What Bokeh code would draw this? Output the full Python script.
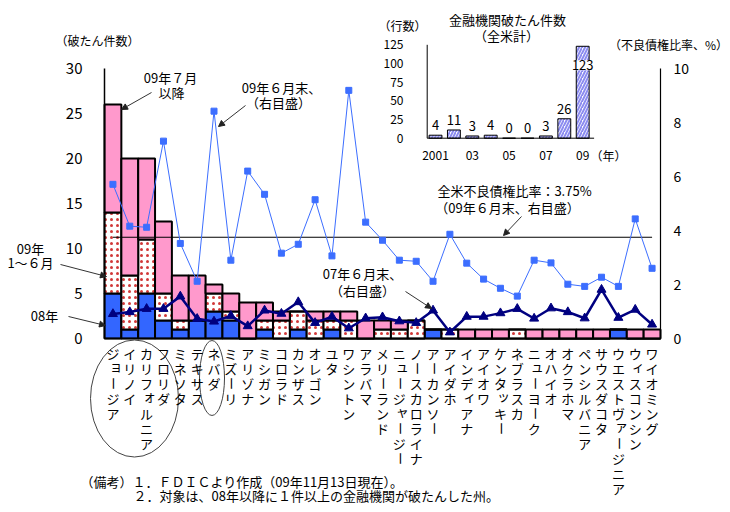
import math
from bokeh.plotting import figure
from bokeh.models import (ColumnDataSource, Range1d, LabelSet, Label, Arrow, NormalHead)
from bokeh.embed import file_html
from bokeh.resources import INLINE
from bokeh.core.properties import value

# ---------------- data ----------------
states = ["ジョージア", "イリノイ", "カリフォルニア", "フロリダ", "ミネソタ", "テキサス", "ネバダ",
          "ミズーリ", "アリゾナ", "ミシガン", "コロラド", "カンザス", "オレゴン", "ユタ", "ワシントン",
          "アラバマ", "メリーランド", "ニュージャージー", "ノースカロライナ", "アーカンソー", "アイダホ",
          "インディアナ", "アイオワ", "ケンタッキー", "ネブラスカ", "ニューヨーク", "オハイオ",
          "オクラホマ", "ペンシルバニア", "サウスダコタ", "ウエストヴァージニア", "ウィスコンシン", "ワイオミング"]
failures_2008 = [5, 1, 5, 2, 1, 2, 3, 2, 0, 1, 0, 1, 0, 1, 0, 0, 0, 0, 0, 1, 0, 0, 0, 0, 0, 0, 0, 0, 0, 0, 1, 0, 0]
failures_2009_h1 = [9, 6, 6, 3, 1, 0, 2, 1, 0, 1, 2, 2, 2, 1, 2, 0, 1, 1, 2, 0, 1, 0, 0, 0, 1, 0, 0, 0, 0, 0, 0, 0, 0]
failures_2009_h2 = [12, 13, 9, 8, 5, 5, 1, 2, 4, 2, 1, 0, 1, 1, 1, 2, 1, 1, 0, 0, 0, 1, 1, 1, 0, 1, 1, 1, 1, 1, 0, 1, 1]
npl_2009_06 = [5.71, 4.16, 4.12, 7.31, 3.52, 2.12, 8.42, 2.90, 6.20, 5.34, 3.16, 3.49, 5.14, 3.06, 9.19,
               4.31, 3.64, 2.90, 2.86, 2.12, 3.86, 2.79, 2.20, 1.86, 1.57, 2.90, 2.80, 2.01, 1.93, 2.27,
               1.93, 4.43, 2.60]
npl_2007_06 = [0.91, 0.98, 1.10, 1.10, 1.56, 0.73, 0.63, 0.84, 0.46, 1.04, 0.92, 1.35, 0.58, 0.81, 0.38,
               0.75, 0.79, 0.64, 0.58, 1.04, 0.23, 0.81, 0.81, 0.94, 1.10, 0.74, 1.12, 0.98, 0.75, 1.81,
               0.77, 1.07, 0.52]
npl_us_2009_06 = 3.75
left_ticks = [0, 5, 10, 15, 20, 25, 30]
right_ticks = [0, 2, 4, 6, 8, 10]

years = [2001, 2002, 2003, 2004, 2005, 2006, 2007, 2008, 2009]
us_failures = [4, 11, 3, 4, 0, 0, 3, 26, 123]
inset_y_ticks = [0, 25, 50, 75, 100, 125]
inset_x_ticks = [2001, 2003, 2005, 2007, 2009]
inset_x_tick_labels = ["2001", "03", "05", "07", "09"]

# ---------------- layout (pixels) ----------------
W, H = 730, 512
AX_L, AX_R = 104, 660          # left / right axis x
AX_B, AX_T = 338, 68           # y of zero / of top tick
n_states = len(states)
ppx = (AX_R - AX_L) / n_states
ppu_l = (AX_B - AX_T) / left_ticks[-1]
ppu_r = (AX_B - AX_T) / right_ticks[-1]

INS_X0_PX, INS_DX_PX = 435.0, 18.4     # centre of first year bar, spacing
INS_Y0_PX, INS_TOP_PX = 137.7, 44.3    # pixel of 0 and of 125
ins_ppu = (INS_Y0_PX - INS_TOP_PX) / inset_y_ticks[-1]

JP = "Noto Sans CJK JP"
PINK, BLUE, LBLUE, NAVY = "#FF99CC", "#3366FF", "#3C6EFF", "#000080"

xpos = [i + 0.5 for i in range(n_states)]   # category centres on a 0..n scale

# the frame covers the whole canvas; every scale is placed by its ranges
p = figure(width=W, height=H,
           x_range=Range1d(-AX_L / ppx, n_states + (W - AX_R) / ppx),
           y_range=Range1d(-(H - AX_B) / ppu_l, AX_B / ppu_l),
           x_axis_type=None, y_axis_type=None,
           output_backend="svg", toolbar_location=None,
           min_border=0, min_border_left=0, min_border_right=0, min_border_top=0, min_border_bottom=0)
p.extra_y_ranges = {
    "ratio": Range1d(-(H - AX_B) / ppu_r, AX_B / ppu_r),
    "px": Range1d(H, 0),
    "inset_y": Range1d(-(H - INS_Y0_PX) / ins_ppu, INS_Y0_PX / ins_ppu),
}
p.extra_x_ranges = {
    "px": Range1d(0, W),
    "inset_x": Range1d(years[0] - INS_X0_PX / INS_DX_PX, years[0] + (W - INS_X0_PX) / INS_DX_PX),
}
p.outline_line_color = None
p.background_fill_color = "white"
p.border_fill_color = "white"

# ---------------- main bars & lines ----------------
src = ColumnDataSource(dict(state=states, x=xpos, y08=failures_2008, h1=failures_2009_h1,
                            h2=failures_2009_h2, npl09=npl_2009_06, npl07=npl_2007_06))
p.vbar_stack(["y08", "h1", "h2"], x="x", width=1.0, source=src,
             fill_color=[BLUE, "white", PINK], line_color="black", line_width=2,
             hatch_pattern=[" ", "dot", " "], hatch_color="#CC2222", hatch_scale=6, hatch_weight=0.4,
             hatch_alpha=0.9)

# axes lines
p.segment(x0=[0, 0], y0=[left_ticks[0], 0], x1=[0, n_states], y1=[left_ticks[-1], 0],
          line_color="black", line_width=1.5)
p.segment(x0=[n_states], y0=[right_ticks[0]], x1=[n_states], y1=[right_ticks[-1]],
          y_range_name="ratio", line_color="black", line_width=1.2)

ref_src = ColumnDataSource(dict(x=[xpos[0], xpos[-1]], y=[npl_us_2009_06, npl_us_2009_06]))
p.line(x="x", y="y", source=ref_src, y_range_name="ratio", line_color="black", line_width=1.2)

p.line(x="x", y="npl09", source=src, y_range_name="ratio", line_color=LBLUE, line_width=1)
p.scatter(x="x", y="npl09", source=src, y_range_name="ratio", marker="square", size=6,
          fill_color=LBLUE, line_color=LBLUE)
p.line(x="x", y="npl07", source=src, y_range_name="ratio", line_color=NAVY, line_width=2.5)
p.scatter(x="x", y="npl07", source=src, y_range_name="ratio", marker="triangle", size=9,
          fill_color=NAVY, line_color=NAVY)

# tick labels
lt_src = ColumnDataSource(dict(x=[82] * len(left_ticks), y=left_ticks, t=[str(v) for v in left_ticks]))
p.add_layout(LabelSet(x="x", y="y", text="t", source=lt_src, x_range_name="px",
                      text_align="right", text_baseline="middle", text_font=value(JP),
                      text_font_size="15px", text_color="black"))
rt_src = ColumnDataSource(dict(x=[673] * len(right_ticks), y=right_ticks, t=[str(v) for v in right_ticks]))
p.add_layout(LabelSet(x="x", y="y", text="t", source=rt_src, x_range_name="px", y_range_name="ratio",
                      text_align="left", text_baseline="middle", text_font=value(JP),
                      text_font_size="14px", text_color="black"))

# ---------------- vertical category labels ----------------
small = set("ャュョァィゥェォッ")
cx, cy, ct, ca, cdx = [], [], [], [], []
for xi, s in zip(xpos, states):
    for k, ch in enumerate(s):
        cx.append(xi)
        cy.append(353 + 15 * k - (3 if ch in small else 0))
        ct.append(ch)
        ca.append(math.pi / 2 if ch == "ー" else 0.0)
        cdx.append(3 if ch in small else 0)
lab_src = ColumnDataSource(dict(x=cx, y=cy, t=ct, a=ca, dx=cdx))
p.add_layout(LabelSet(x="x", y="y", text="t", angle="a", x_offset="dx", source=lab_src, y_range_name="px",
                      text_align="center", text_baseline="middle", text_font=value(JP),
                      text_font_size="13px", text_color="black"))

# ---------------- inset chart ----------------
ins_src = ColumnDataSource(dict(year=years, n=us_failures))
p.vbar(x="year", top="n", width=0.7, source=ins_src, x_range_name="inset_x", y_range_name="inset_y",
       fill_color="white", line_color="black", line_width=1,
       hatch_pattern="/", hatch_color="#8C8CF0", hatch_scale=6, hatch_weight=2)
x_lo = years[0] - (INS_X0_PX - 426.7) / INS_DX_PX
x_hi = years[-1] + 0.62
p.segment(x0=[x_lo, x_lo], y0=[0, 0], x1=[x_lo, x_hi], y1=[inset_y_ticks[-1], 0],
          x_range_name="inset_x", y_range_name="inset_y", line_color="black", line_width=1)

label_y = [v + 10 / ins_ppu if v < 100 else v - 19 / ins_ppu for v in us_failures]
small_src = ColumnDataSource(dict(year=[y for y, v in zip(years, us_failures) if v < 100],
                                  ly=[l for l, v in zip(label_y, us_failures) if v < 100],
                                  t=[str(v) for v in us_failures if v < 100]))
big_src = ColumnDataSource(dict(year=[y for y, v in zip(years, us_failures) if v >= 100],
                                ly=[l for l, v in zip(label_y, us_failures) if v >= 100],
                                t=[str(v) for v in us_failures if v >= 100]))
p.add_layout(LabelSet(x="year", y="ly", text="t", source=small_src, x_range_name="inset_x",
                      y_range_name="inset_y", text_align="center", text_baseline="middle",
                      text_font=value(JP), text_font_size="13px", text_color="black"))
p.add_layout(LabelSet(x="year", y="ly", text="t", source=big_src, x_range_name="inset_x",
                      y_range_name="inset_y", text_align="center", text_baseline="middle",
                      text_font=value(JP), text_font_size="13px", text_color="black",
                      background_fill_color="white"))

ytick_src = ColumnDataSource(dict(x=[403] * len(inset_y_ticks), y=inset_y_ticks,
                                  t=[str(v) for v in inset_y_ticks]))
p.add_layout(LabelSet(x="x", y="y", text="t", source=ytick_src, x_range_name="px", y_range_name="inset_y",
                      text_align="right", text_baseline="middle", text_font=value(JP),
                      text_font_size="12px", text_color="black"))
xtick_src = ColumnDataSource(dict(x=inset_x_ticks, y=[155] * len(inset_x_ticks), t=inset_x_tick_labels))
p.add_layout(LabelSet(x="x", y="y", text="t", source=xtick_src, x_range_name="inset_x", y_range_name="px",
                      text_align="center", text_baseline="middle", text_font=value(JP),
                      text_font_size="12px", text_color="black"))


# ---------------- text annotations ----------------
def lab(x, y, text, align="center", size="13px"):
    p.add_layout(Label(x=x, y=y, x_range_name="px", y_range_name="px", text=text, text_align=align,
                       text_baseline="middle", text_font=JP, text_font_size=size, text_color="black"))


def arrow(x0, y0, x1, y1):
    p.add_layout(Arrow(end=NormalHead(size=6, fill_color="#222222", line_color="#222222", line_width=1),
                       x_start=x0, y_start=y0, x_end=x1, y_end=y1, x_range_name="px", y_range_name="px",
                       line_color="#333333", line_width=1))


lab(97, 40, "（破たん件数）", size="12px")
lab(668, 44, "（不良債権比率、%）", size="12px")
lab(170, 77, "09年７月")
lab(171, 92, "以降")
arrow(151, 92, 121, 109)
lab(281, 87, "09年６月末、")
lab(278, 102, "（右目盛）")
arrow(245, 105, 218, 126)
lab(514, 190, "全米不良債権比率：3.75%")
lab(507, 207, "（09年６月末、右目盛）")
arrow(521, 216, 503, 235)
lab(362, 273, "07年６月末、")
lab(362, 290, "（右目盛）")
arrow(405, 291, 431, 308)
lab(30, 248, "09年")
lab(30, 262, "1～６月")
arrow(60, 264, 106, 276)
lab(44, 315, "08年")
arrow(68, 316, 105, 325)

lab(507, 19, "金融機関破たん件数")
lab(506, 35, "（全米計）")
lab(402, 25, "（行数）", size="12px")
lab(608, 155, "（年）", size="12px")

lab(80, 481, "（備考）１．ＦＤＩＣより作成（09年11月13日現在）。", align="left")
lab(133, 495, "２．対象は、08年以降に１件以上の金融機関が破たんした州。", align="left")

# circled state groups (pixel space)
p.ellipse(x=[134, 211.5], y=[398, 377.5], width=[88, 25], height=[117, 75],
          x_range_name="px", y_range_name="px", fill_color=None, line_color="#444444", line_width=1)

open("out.html", "w").write(file_html(p, INLINE))
